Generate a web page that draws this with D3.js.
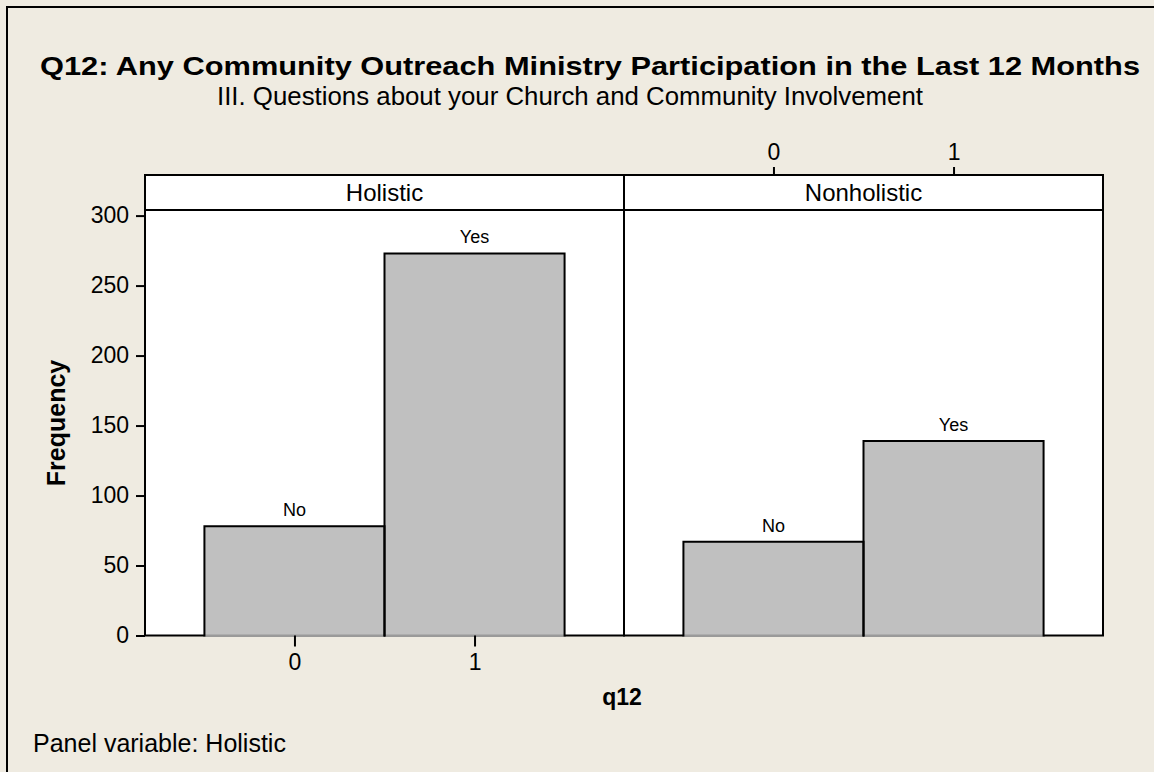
<!DOCTYPE html>
<html><head><meta charset="utf-8">
<script src="https://cdn.jsdelivr.net/npm/d3@7"></script>
<style>
html,body{margin:0;padding:0;background:#efebe1;}
svg{display:block;}
text{font-family:"Liberation Sans",Arial,sans-serif;fill:#000;}
</style></head>
<body>
<svg id="c" width="1154" height="772"></svg>
<script>
const panels = ["Holistic", "Nonholistic"];
const categories = [0, 1];
const barLabels = ["No", "Yes"];
const holisticValues = [78, 273];
const nonholisticValues = [67, 139];
const yTicks = [0, 50, 100, 150, 200, 250, 300];
const title = "Q12: Any Community Outreach Ministry Participation in the Last 12 Months";
const subtitle = "III. Questions about your Church and Community Involvement";
const xTitle = "q12";
const yTitle = "Frequency";
const footnote = "Panel variable: Holistic";

const series = [holisticValues, nonholisticValues];
const svg = d3.select("#c");
const W = 1154, H = 772;

svg.append("rect").attr("x",0).attr("y",0).attr("width",W).attr("height",H).attr("fill","#efebe1");
svg.append("path").attr("d","M7,772 V7 H1154").attr("fill","none").attr("stroke","#000").attr("stroke-width",2);

const L = 145, R = 1103, T = 210, B = 635.5, stripTop = 175;
const panelBand = d3.scaleBand().domain(panels).range([L, R]).padding(0);
const y = d3.scaleLinear().domain([0, 304]).range([B, T]);
const boldFont = "DejaVu Sans";

svg.append("text").attr("x",40).attr("y",75).attr("font-size",26).attr("font-weight","bold")
  .attr("font-family",boldFont)
  .attr("textLength",1100).attr("lengthAdjust","spacingAndGlyphs").text(title);
svg.append("text").attr("x",570).attr("y",105).attr("font-size",25).attr("text-anchor","middle")
  .attr("textLength",706).attr("lengthAdjust","spacingAndGlyphs").text(subtitle);

panels.forEach((p, i) => {
  const x0 = panelBand(p), x1 = x0 + panelBand.bandwidth();
  const x = d3.scaleLinear().domain([-0.83, 1.83]).range([x0, x1]);
  const g = svg.append("g");
  g.append("rect").attr("x",x0).attr("y",stripTop).attr("width",x1-x0).attr("height",T-stripTop)
    .attr("fill","#fff").attr("stroke","#000").attr("stroke-width",2);
  g.append("text").attr("x",(x0+x1)/2).attr("y",201).attr("text-anchor","middle").attr("font-size",24).text(p);
  g.append("rect").attr("x",x0).attr("y",T).attr("width",x1-x0).attr("height",B-T)
    .attr("fill","#fff").attr("stroke","#000").attr("stroke-width",2);
  const data = categories.map((c, k) => ({c, v: series[i][k], lab: barLabels[k]}));
  // bar fill (covers the frame bottom under the bar)
  g.selectAll("rect.bar").data(data).join("rect").attr("class","bar")
    .attr("x", d => x(d.c - 0.5)).attr("width", d => x(d.c + 0.5) - x(d.c - 0.5))
    .attr("y", d => y(d.v)).attr("height", d => y(0) - y(d.v) + 1)
    .attr("fill","#c0c0c0");
  // gray bottom edge of bars
  g.selectAll("line.barbase").data(data).join("line").attr("class","barbase")
    .attr("x1", d => x(d.c - 0.5)).attr("x2", d => x(d.c + 0.5))
    .attr("y1", y(0)).attr("y2", y(0)).attr("stroke","#9a9a9a").attr("stroke-width",2);
  // black outline on left, top, right
  g.selectAll("path.barline").data(data).join("path").attr("class","barline")
    .attr("d", d => `M${x(d.c-0.5)},${y(0)+1}V${y(d.v)}H${x(d.c+0.5)}V${y(0)+1}`)
    .attr("fill","none").attr("stroke","#000").attr("stroke-width",2);
  g.selectAll("text.lab").data(data).join("text").attr("class","lab")
    .attr("x", d => x(d.c)).attr("y", d => y(d.v) - 10).attr("text-anchor","middle")
    .attr("font-size",18).text(d => d.lab);
  if (i === 0) {
    const ax = svg.append("g").attr("transform",`translate(0,${B})`)
      .call(d3.axisBottom(x).tickValues(categories).tickFormat(d3.format("d")).tickSize(11).tickPadding(7));
    ax.select(".domain").remove();
    ax.selectAll("line").attr("stroke","#000").attr("stroke-width",2);
    ax.selectAll("text").attr("font-size",23).attr("font-family","Liberation Sans");
  } else {
    const ax = svg.append("g").attr("transform",`translate(0,${stripTop})`)
      .call(d3.axisTop(x).tickValues(categories).tickFormat(d3.format("d")).tickSize(8).tickPadding(7));
    ax.select(".domain").remove();
    ax.selectAll("line").attr("stroke","#000").attr("stroke-width",2);
    ax.selectAll("text").attr("font-size",23).attr("font-family","Liberation Sans");
  }
});

const ya = svg.append("g").attr("transform",`translate(${L},0)`)
  .call(d3.axisLeft(y).tickValues(yTicks).tickSize(9).tickPadding(7));
ya.select(".domain").remove();
ya.selectAll("line").attr("stroke","#000").attr("stroke-width",2);
ya.selectAll("text").attr("font-size",23).attr("font-family","Liberation Sans");

svg.append("text").attr("transform","translate(65,423) rotate(-90)").attr("text-anchor","middle")
  .attr("font-size",25).attr("font-weight","bold").attr("font-family",boldFont).text(yTitle);
svg.append("text").attr("x",622).attr("y",705).attr("text-anchor","middle")
  .attr("font-size",23).attr("font-weight","bold").attr("font-family",boldFont).text(xTitle);
svg.append("text").attr("x",33).attr("y",752).attr("font-size",25).text(footnote);
</script>
</body></html>
